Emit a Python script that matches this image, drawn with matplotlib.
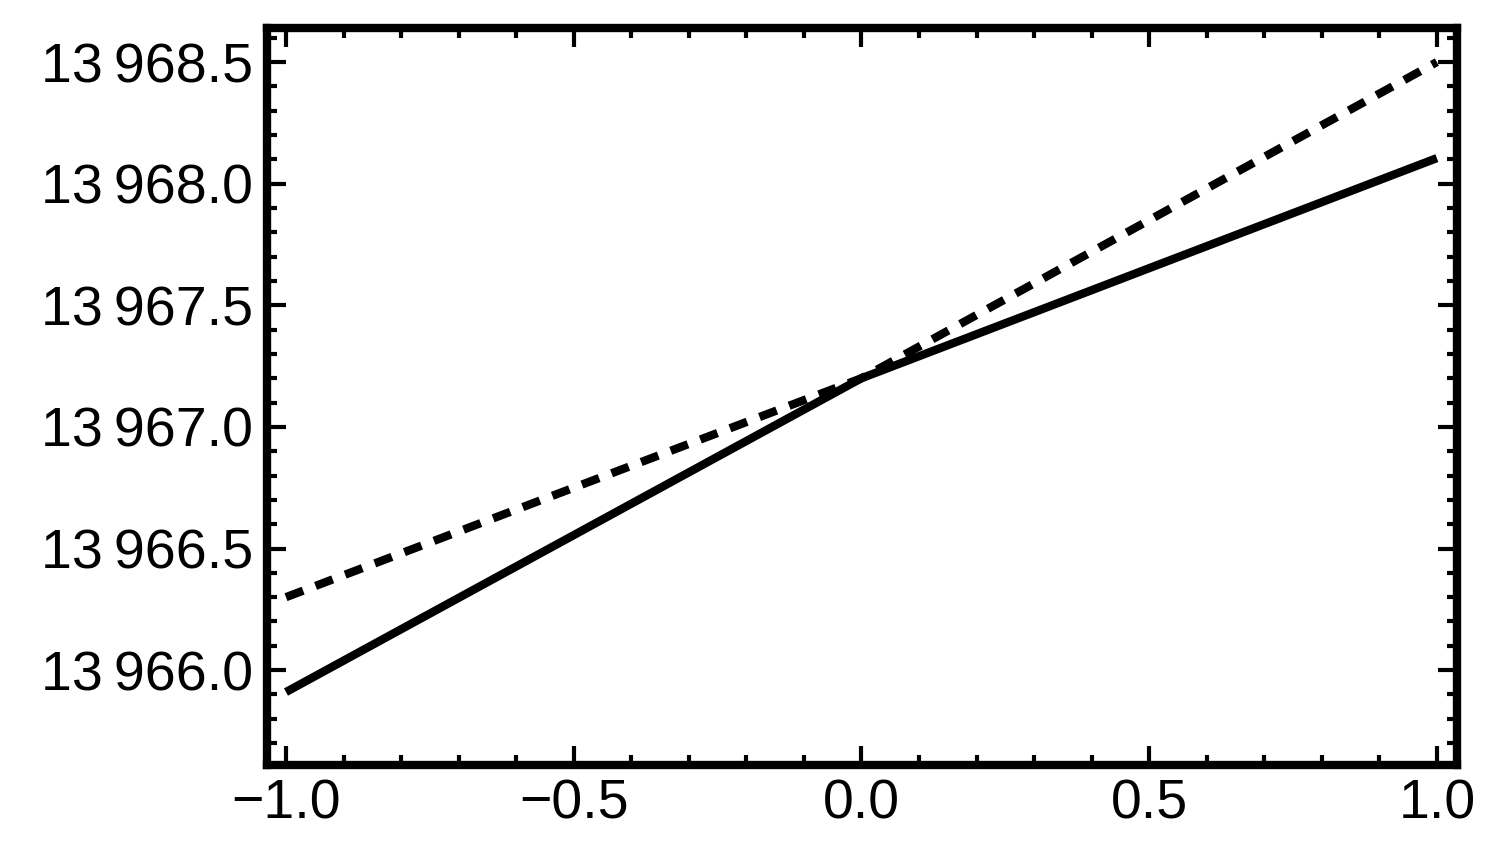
import matplotlib
matplotlib.use("Agg")
import matplotlib.pyplot as plt
from matplotlib.ticker import FuncFormatter, MultipleLocator

x = [-1.0, 0.0, 1.0]
solid = [13965.91, 13967.20, 13968.105]
dashed = [13966.30, 13967.20, 13968.50]

plt.rcParams['font.family'] = ['Liberation Sans', 'DejaVu Sans']
fig = plt.figure(figsize=(14.99, 8.61), dpi=100)
ax = fig.add_axes([267/1499, 1-765/861, (1457-267)/1499, (765-28)/861])
ax.plot(x, solid, color='black', lw=6, solid_capstyle='butt')
ax.plot(x, dashed, color='black', lw=6, dashes=(2.2, 1.6))
ax.set_xlim(-1.033, 1.035)
ax.set_ylim(13965.61, 13968.64)
ax.xaxis.set_major_locator(MultipleLocator(0.5))
ax.xaxis.set_minor_locator(MultipleLocator(0.1))
ax.yaxis.set_major_locator(MultipleLocator(0.5))
ax.yaxis.set_minor_locator(MultipleLocator(0.1))
def yf(v, p):
    s = f"{v:.1f}"
    return s[:2] + "\u2009" + s[2:]
ax.yaxis.set_major_formatter(FuncFormatter(yf))
ax.xaxis.set_major_formatter(FuncFormatter(lambda v, p: f"{v:.1f}".replace('-', '\u2212')))
for s in ax.spines.values():
    s.set_linewidth(6)
ax.tick_params(which='both', direction='in', top=True, right=True, labelsize=40, width=3, colors='black')
ax.tick_params(which='major', length=14, pad=10)
ax.tick_params(which='minor', length=7)
fig.savefig("out.png", dpi=100)
